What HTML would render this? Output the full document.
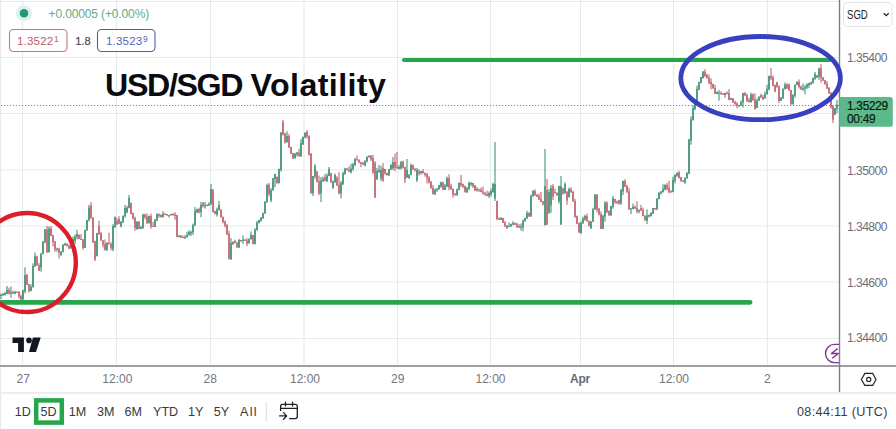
<!DOCTYPE html>
<html><head><meta charset="utf-8">
<style>
html,body{margin:0;padding:0;width:896px;height:429px;overflow:hidden;background:#fff;}
body{position:relative;font-family:"Liberation Sans",sans-serif;}
.t{position:absolute;white-space:nowrap;line-height:1;}
svg{position:absolute;left:0;top:0;}
.px{color:#6e7075;font-size:12.1px;left:847px;letter-spacing:-0.55px;}
.tx{color:#72757c;font-size:12px;top:373px;}
.tb{color:#383a42;font-size:12.6px;top:405.7px;}
</style></head><body>
<svg width="896" height="429" viewBox="0 0 896 429">
  <!-- grid -->
  <g stroke="#e5eaee" stroke-width="1.1" fill="none">
    <path d="M22.5 0V365M116.5 0V365M210.5 0V365M304 0V365M397.5 0V365M490.5 0V365M580.5 0V365M673.5 0V365M767.5 0V365"/>
    <path d="M0 1.5H839M0 57.5H839M0 113.5H839M0 170H839M0 226H839M0 282H839M0 338.5H839"/>
  </g>
  <path d="M0.5 0V429" stroke="#e9e9e9" stroke-width="1.2"/>
  <!-- current price dotted line -->
  <path d="M0 105.5H839" stroke="#7d8a86" stroke-width="1" stroke-dasharray="1.2 1.8" stroke-dashoffset="-1"/>
  
  <!-- candles -->
  <path d="M1.0 293.6V299.1M3.0 293.1V296.0M5.0 291.9V295.5M7.0 286.0V294.0M11.0 286.4V297.7M15.0 290.7V293.4M23.0 289.6V299.5M25.0 267.4V293.4M31.0 284.2V291.2M33.0 263.3V287.0M35.0 252.6V266.8M41.0 253.1V271.7M43.0 241.0V254.1M45.0 229.1V243.4M49.0 226.5V252.2M57.0 247.7V251.7M61.0 251.2V256.1M63.0 244.2V251.7M65.0 242.6V245.4M71.0 242.1V248.2M73.0 236.6V242.8M75.0 234.5V244.3M77.0 229.8V239.4M85.0 229.6V247.7M87.0 219.9V230.4M89.0 204.8V221.3M97.0 232.9V256.2M107.0 242.1V251.1M113.0 224.3V251.2M115.0 216.4V228.1M121.0 221.1V227.2M123.0 215.6V223.2M125.0 205.0V217.5M127.0 205.7V213.2M129.0 195.0V207.7M137.0 221.5V229.5M141.0 225.8V229.2M143.0 213.9V228.8M149.0 215.5V223.0M155.0 219.0V226.9M157.0 213.3V221.2M163.0 211.2V217.0M169.0 214.9V217.6M171.0 213.7V215.1M179.0 235.3V237.3M185.0 235.1V238.7M187.0 231.7V237.2M189.0 230.2V235.2M191.0 230.5V236.2M193.0 223.6V235.0M195.0 207.0V225.6M197.0 208.7V213.4M201.0 201.9V217.1M205.0 201.9V208.7M207.0 204.6V206.1M209.0 202.0V205.9M211.0 184.0V204.2M217.0 207.7V216.6M219.0 200.9V210.5M231.0 238.2V260.0M233.0 241.5V244.8M239.0 238.8V247.9M241.0 239.9V241.7M243.0 235.4V244.0M249.0 238.4V243.3M251.0 231.4V239.1M255.0 228.2V244.1M257.0 221.0V229.9M259.0 219.8V223.4M261.0 217.2V221.5M263.0 212.5V218.7M265.0 201.3V213.5M267.0 183.6V202.6M271.0 188.1V202.3M273.0 177.8V190.5M275.0 173.7V187.3M279.0 168.6V182.9M281.0 131.9V171.6M287.0 131.2V142.2M295.0 152.8V158.2M297.0 152.0V156.6M301.0 138.9V156.8M303.0 136.5V144.9M305.0 132.2V138.3M313.0 176.0V196.1M315.0 164.0V178.8M321.0 177.1V202.0M323.0 176.5V181.7M327.0 173.5V181.7M329.0 167.0V176.1M333.0 180.4V188.4M335.0 173.5V182.4M341.0 181.0V198.5M343.0 171.7V185.3M345.0 167.8V174.1M351.0 163.7V173.2M353.0 162.9V170.8M355.0 157.9V166.3M365.0 160.3V166.5M367.0 156.3V162.5M369.0 155.6V157.2M377.0 167.8V179.8M379.0 164.9V172.4M381.0 166.0V181.0M389.0 168.8V175.8M391.0 164.1V169.5M393.0 157.0V170.0M399.0 164.9V169.5M401.0 161.3V169.4M407.0 159.0V178.0M409.0 174.5V178.4M411.0 163.5V174.7M417.0 168.0V182.0M421.0 171.0V174.7M435.0 188.5V194.9M437.0 187.9V191.8M439.0 184.8V189.9M441.0 181.7V187.8M445.0 183.9V190.0M447.0 176.5V187.2M457.0 188.6V195.5M459.0 182.5V190.4M467.0 186.9V192.9M469.0 181.5V190.3M471.0 181.9V186.2M477.0 187.1V191.5M489.0 191.5V198.1M491.0 188.5V196.7M493.0 182.6V192.7M495.0 142.0V201.0M501.0 217.1V220.0M509.0 222.6V226.7M511.0 223.6V226.5M513.0 221.2V225.3M521.0 223.5V230.5M523.0 219.6V231.4M525.0 217.6V221.1M527.0 210.7V218.7M531.0 194.5V216.4M533.0 190.1V196.6M545.0 149.0V225.0M549.0 189.0V214.0M551.0 185.0V213.0M559.0 185.8V203.5M561.0 176.0V225.0M565.0 182.4V193.2M569.0 187.5V196.8M581.0 221.2V234.0M583.0 216.6V223.6M585.0 214.8V220.8M591.0 221.1V228.7M593.0 207.9V221.5M595.0 194.2V209.4M603.0 214.9V228.6M605.0 201.1V221.6M611.0 205.8V215.7M613.0 195.8V208.7M621.0 189.0V204.8M623.0 180.7V195.0M631.0 208.1V214.1M633.0 203.5V209.4M639.0 209.5V213.4M647.0 209.3V224.0M649.0 214.5V217.6M651.0 212.3V216.6M653.0 208.0V213.8M657.0 198.4V210.0M659.0 191.9V199.2M661.0 191.2V194.6M663.0 184.3V192.6M665.0 184.2V190.4M673.0 176.7V192.3M675.0 174.2V183.4M677.0 172.6V176.9M685.0 177.3V183.1M687.0 172.0V178.4M689.0 138.9V173.8M691.0 116.2V144.8M693.0 105.2V120.4M695.0 103.6V110.3M697.0 85.7V104.8M699.0 81.8V90.2M701.0 77.0V83.0M703.0 71.0V78.0M717.0 91.4V94.2M719.0 89.9V100.7M725.0 92.5V97.7M731.0 97.8V99.9M739.0 104.8V106.5M741.0 100.3V105.6M743.0 92.9V107.6M751.0 92.6V102.4M757.0 98.5V108.0M759.0 95.9V100.7M765.0 91.4V98.9M767.0 84.8V94.3M769.0 75.7V90.4M781.0 97.1V100.5M783.0 88.2V98.8M785.0 82.3V89.1M793.0 94.0V104.4M795.0 84.5V97.6M797.0 81.4V84.9M803.0 83.5V90.1M805.0 85.0V94.4M807.0 83.4V88.9M809.0 82.7V88.1M811.0 81.6V84.5M813.0 77.7V83.0M815.0 72.0V79.9M817.0 75.1V78.1M819.0 67.6V79.8M835.0 107.8V114.7M837.0 100.0V113.0" stroke="#30896a" stroke-width="1" fill="none"/><path d="M9.0 287.7V294.7M13.0 290.7V293.5M17.0 291.4V292.5M19.0 291.1V298.6M21.0 294.5V300.0M27.0 274.0V284.8M29.0 283.9V292.5M37.0 255.7V265.3M39.0 263.1V270.9M47.0 226.0V252.8M51.0 226.0V236.1M53.0 234.8V246.4M55.0 240.9V251.8M59.0 248.3V258.5M67.0 243.2V246.4M69.0 244.6V249.1M79.0 234.2V238.8M81.0 234.1V239.8M83.0 239.0V249.8M91.0 202.1V218.3M93.0 217.1V242.8M95.0 240.8V261.0M99.0 220.5V234.8M101.0 232.0V240.4M103.0 240.2V247.5M105.0 239.5V250.0M109.0 232.7V244.1M111.0 242.1V250.3M117.0 217.8V224.8M119.0 216.2V224.3M131.0 202.7V214.4M133.0 212.7V219.6M135.0 216.6V230.9M139.0 221.2V228.6M145.0 213.7V219.3M147.0 213.4V223.5M151.0 213.5V228.6M153.0 221.8V226.9M159.0 213.6V217.7M161.0 214.3V217.1M165.0 212.8V214.9M167.0 214.0V215.3M173.0 213.1V215.8M175.0 212.1V219.8M177.0 214.7V237.3M181.0 235.1V237.7M183.0 235.6V238.3M199.0 207.6V213.4M203.0 201.9V207.6M213.0 189.3V212.2M215.0 210.8V213.8M221.0 209.3V217.2M223.0 216.4V223.4M225.0 220.5V227.4M227.0 224.3V234.8M229.0 230.9V259.0M235.0 239.7V242.7M237.0 241.7V247.7M245.0 238.9V240.7M247.0 238.2V246.2M253.0 235.0V243.9M269.0 183.0V196.4M277.0 176.6V183.2M283.0 120.0V135.6M285.0 132.9V143.6M289.0 134.0V148.0M291.0 146.7V153.5M293.0 152.9V159.1M299.0 148.7V156.1M307.0 130.0V138.6M309.0 135.2V155.9M311.0 153.1V193.3M317.0 170.9V182.5M319.0 175.6V195.3M325.0 174.0V181.5M331.0 172.9V182.6M337.0 176.2V185.9M339.0 172.1V194.4M347.0 167.9V169.9M349.0 166.4V172.1M357.0 155.4V160.2M359.0 159.5V162.9M361.0 161.9V167.3M363.0 162.0V165.1M371.0 155.4V161.0M373.0 154.9V173.9M375.0 161.0V198.0M383.0 163.0V182.0M385.0 168.8V174.6M387.0 172.7V175.1M395.0 153.5V171.3M397.0 152.0V168.3M403.0 160.5V168.5M405.0 166.7V183.0M413.0 164.7V169.2M415.0 167.9V171.4M419.0 169.3V175.6M423.0 169.1V173.2M425.0 172.5V176.7M427.0 172.9V183.6M429.0 176.1V183.6M431.0 180.9V188.5M433.0 184.9V194.1M443.0 181.7V189.6M449.0 174.3V190.3M451.0 183.7V189.5M453.0 188.2V197.8M455.0 193.2V195.4M461.0 175.0V187.1M463.0 183.7V188.1M465.0 185.5V191.8M473.0 183.0V187.9M475.0 185.0V191.2M479.0 188.9V192.0M481.0 187.5V192.2M483.0 186.7V194.6M485.0 191.9V195.8M487.0 190.5V196.2M497.0 200.8V220.2M499.0 217.7V219.7M503.0 217.8V223.0M505.0 221.0V227.3M507.0 225.1V228.9M515.0 222.7V224.9M517.0 222.5V227.5M519.0 224.0V228.0M529.0 212.0V216.5M535.0 189.3V195.9M537.0 194.4V196.9M539.0 193.5V200.0M541.0 192.0V201.7M543.0 201.0V205.6M547.0 179.0V225.0M553.0 184.0V200.0M555.0 188.5V193.1M557.0 192.5V195.8M563.0 187.7V194.8M567.0 190.9V204.8M571.0 187.3V192.4M573.0 190.9V201.1M575.0 198.8V217.3M577.0 215.5V223.9M579.0 222.5V232.7M587.0 213.5V221.1M589.0 220.5V226.6M597.0 194.3V212.5M599.0 207.8V215.5M601.0 211.4V229.2M607.0 201.3V212.9M609.0 210.4V215.6M615.0 198.8V203.8M617.0 200.6V203.6M619.0 199.8V204.8M625.0 179.0V186.4M627.0 184.8V193.2M629.0 187.8V209.6M635.0 205.6V208.6M637.0 201.3V213.2M641.0 204.8V210.5M643.0 207.6V215.9M645.0 215.5V220.1M655.0 207.8V209.7M667.0 183.0V190.3M669.0 180.7V193.6M671.0 190.2V192.8M679.0 170.8V178.6M681.0 176.8V181.8M683.0 180.3V182.0M705.0 69.2V76.5M707.0 73.8V78.1M709.0 74.5V83.5M711.0 78.3V89.3M713.0 83.7V88.5M715.0 84.8V93.6M721.0 91.4V94.3M723.0 93.3V94.6M727.0 91.3V93.9M729.0 89.1V100.2M733.0 97.9V102.4M735.0 100.6V105.7M737.0 102.0V108.3M745.0 91.9V96.1M747.0 93.6V101.5M749.0 97.8V102.1M753.0 93.5V100.3M755.0 93.4V109.0M761.0 93.6V97.7M763.0 95.0V100.0M771.0 68.0V80.1M773.0 75.3V85.9M775.0 84.6V92.2M777.0 81.9V87.8M779.0 85.3V103.3M787.0 83.3V88.9M789.0 83.6V90.3M791.0 90.0V104.5M799.0 79.4V88.5M801.0 85.6V89.6M821.0 64.0V82.8M823.0 77.2V80.9M825.0 80.1V84.4M827.0 81.0V89.1M829.0 87.0V93.5M831.0 92.1V108.8M833.0 105.4V123.0" stroke="#bd5763" stroke-width="1" fill="none"/><path d="M1.0 294.7V296.1M3.0 294.1V295.3M5.0 292.9V294.7M7.0 290.0V294.1M11.0 292.1V293.6M15.0 291.8V293.9M23.0 290.5V299.6M25.0 275.0V291.4M31.0 286.8V291.1M33.0 265.9V287.6M35.0 256.0V266.5M41.0 253.7V267.6M43.0 241.2V254.3M45.0 229.2V241.8M49.0 228.4V252.6M57.0 248.4V249.6M61.0 251.6V254.6M63.0 244.7V252.2M65.0 243.8V245.6M71.0 242.4V248.5M73.0 239.0V243.0M75.0 236.4V240.9M77.0 234.0V237.0M85.0 230.1V248.0M87.0 220.0V230.7M89.0 207.5V220.6M97.0 233.1V256.2M107.0 243.0V249.8M113.0 226.0V249.6M115.0 217.0V227.1M121.0 221.7V226.6M123.0 215.7V222.3M125.0 208.0V216.3M127.0 207.6V212.6M129.0 198.0V208.2M137.0 221.5V229.6M141.0 227.3V229.0M143.0 214.5V227.9M149.0 216.0V223.4M155.0 219.8V227.0M157.0 214.1V220.4M163.0 214.1V217.6M169.0 214.9V215.7M171.0 213.9V215.6M179.0 235.4V237.0M185.0 237.0V238.6M187.0 235.0V237.6M189.0 232.0V235.6M191.0 231.9V233.5M193.0 224.8V232.6M195.0 211.0V225.4M197.0 209.0V212.2M201.0 205.1V212.2M205.0 205.3V206.6M207.0 204.7V205.9M209.0 204.0V205.6M211.0 189.0V204.7M217.0 209.5V214.6M219.0 205.0V210.1M231.0 243.0V259.3M233.0 241.8V244.3M239.0 240.0V247.5M241.0 240.0V241.2M243.0 239.8V241.0M249.0 239.0V243.6M251.0 235.0V239.6M255.0 229.8V244.2M257.0 222.4V230.4M259.0 220.0V223.0M261.0 217.5V221.1M263.0 213.2V218.6M265.0 201.6V213.8M267.0 185.0V202.2M271.0 190.0V200.6M273.0 178.3V190.6M275.0 174.0V178.9M279.0 169.0V183.4M281.0 132.7V170.1M287.0 136.0V142.6M295.0 154.0V158.6M297.0 152.4V154.6M301.0 143.1V156.6M303.0 137.0V144.6M305.0 133.0V137.6M313.0 176.0V193.6M315.0 166.0V176.6M321.0 180.5V193.6M323.0 178.9V181.6M327.0 175.5V181.6M329.0 169.0V176.1M333.0 181.8V188.6M335.0 175.0V182.4M341.0 183.0V193.6M343.0 173.0V184.0M345.0 168.5V174.6M351.0 168.5V172.6M353.0 164.3V169.1M355.0 159.2V164.9M365.0 160.7V165.6M367.0 156.8V161.3M369.0 155.6V157.4M377.0 171.1V179.6M379.0 170.0V172.6M381.0 170.0V178.6M389.0 169.0V175.6M391.0 165.0V169.7M393.0 162.0V168.6M399.0 167.0V168.7M401.0 161.7V168.4M407.0 170.0V177.6M409.0 174.6V178.6M411.0 164.9V175.2M417.0 170.0V180.6M421.0 171.1V173.0M435.0 189.7V194.6M437.0 188.4V190.3M439.0 185.2V189.0M441.0 182.2V186.6M445.0 185.7V190.0M447.0 178.2V186.6M457.0 189.2V195.4M459.0 182.8V189.8M467.0 188.0V192.4M469.0 183.0V188.6M471.0 183.0V184.6M477.0 189.0V190.6M489.0 193.0V196.0M491.0 191.0V194.3M493.0 184.0V192.2M495.0 184.0V198.6M501.0 217.9V220.1M509.0 226.0V227.3M511.0 223.9V226.8M513.0 223.0V224.6M521.0 226.5V227.7M523.0 220.7V227.6M525.0 218.0V221.6M527.0 213.0V218.6M531.0 196.0V216.7M533.0 191.0V196.6M545.0 186.0V225.6M549.0 192.0V212.6M551.0 188.0V205.6M559.0 186.0V201.6M561.0 186.0V224.6M565.0 184.0V193.6M569.0 189.0V197.4M581.0 222.8V232.7M583.0 218.4V223.6M585.0 216.0V219.6M591.0 221.4V228.6M593.0 209.2V222.0M595.0 194.5V209.8M603.0 215.7V229.1M605.0 202.8V216.6M611.0 206.0V215.6M613.0 198.0V206.9M621.0 190.0V203.6M623.0 181.0V191.6M631.0 208.3V209.6M633.0 206.8V208.9M639.0 209.7V211.6M647.0 215.4V220.7M649.0 215.0V216.6M651.0 213.0V215.9M653.0 208.0V214.1M657.0 198.6V209.6M659.0 193.0V199.2M661.0 191.3V193.6M663.0 188.8V191.9M665.0 184.9V189.6M673.0 180.0V191.8M675.0 175.0V180.7M677.0 172.6V175.7M685.0 178.0V183.6M687.0 173.0V178.6M689.0 139.6V174.0M691.0 119.6V140.6M693.0 108.0V120.2M695.0 104.0V108.9M697.0 89.0V105.2M699.0 82.0V89.7M701.0 77.0V83.2M703.0 71.6V78.5M717.0 92.0V93.9M719.0 92.8V93.8M725.0 93.0V95.0M731.0 98.2V100.0M739.0 105.2V106.6M741.0 101.9V105.8M743.0 93.0V102.5M751.0 94.6V102.6M757.0 100.4V107.9M759.0 96.9V101.0M765.0 94.0V97.9M767.0 89.0V94.6M769.0 76.0V89.6M781.0 97.4V101.0M783.0 89.0V98.6M785.0 84.5V89.6M793.0 95.0V104.6M795.0 84.7V95.8M797.0 81.8V85.3M803.0 88.4V90.6M805.0 87.0V89.0M807.0 84.3V87.6M809.0 83.1V85.6M811.0 82.3V84.6M813.0 77.8V83.6M815.0 74.0V78.6M817.0 75.5V77.6M819.0 68.5V76.6M835.0 108.1V115.0M837.0 104.4V108.7" stroke="#30896a" stroke-width="1.3" fill="none"/><path d="M9.0 290.0V293.6M13.0 292.1V293.9M17.0 291.8V293.1M19.0 291.9V296.6M21.0 295.9V299.6M27.0 275.0V285.0M29.0 284.0V291.1M37.0 256.4V265.8M39.0 265.2V271.1M47.0 229.2V252.6M51.0 228.4V235.9M53.0 235.3V242.0M55.0 241.4V249.4M59.0 248.4V252.7M67.0 243.8V246.1M69.0 245.5V248.5M79.0 235.0V239.3M81.0 238.7V240.0M83.0 239.4V248.0M91.0 205.6V218.6M93.0 217.6V242.6M95.0 241.0V259.6M99.0 226.0V233.9M101.0 233.3V240.8M103.0 240.2V244.7M105.0 244.1V250.6M109.0 243.0V244.6M111.0 244.0V247.7M117.0 220.7V224.6M119.0 219.0V223.7M131.0 202.8V213.7M133.0 213.1V218.6M135.0 218.0V227.9M139.0 221.5V229.0M145.0 214.5V217.6M147.0 216.4V223.4M151.0 216.0V226.6M153.0 226.0V227.0M159.0 214.1V215.7M161.0 215.1V217.6M165.0 214.0V215.0M167.0 214.0V215.7M173.0 213.9V215.0M175.0 214.4V215.9M177.0 215.0V237.0M181.0 235.4V237.8M183.0 237.2V237.9M199.0 209.0V212.2M203.0 203.0V206.1M213.0 189.6V212.2M215.0 211.0V214.2M221.0 209.4V217.5M223.0 216.9V222.2M225.0 221.6V225.4M227.0 224.8V234.7M229.0 234.1V259.3M235.0 241.0V243.3M237.0 242.7V247.5M245.0 239.8V241.1M247.0 240.5V243.6M253.0 235.0V244.2M269.0 185.0V194.3M277.0 176.8V183.4M283.0 122.0V134.6M285.0 133.3V142.6M289.0 136.0V147.6M291.0 147.0V154.0M293.0 153.0V158.6M299.0 152.4V156.6M307.0 132.0V136.6M309.0 136.0V154.6M311.0 153.4V193.6M317.0 171.6V181.9M319.0 181.3V193.6M325.0 177.0V180.4M331.0 172.9V182.5M337.0 177.4V185.4M339.0 184.8V193.6M347.0 168.5V170.3M349.0 169.7V171.6M357.0 159.2V160.6M359.0 159.8V162.5M361.0 161.9V163.8M363.0 163.0V164.4M371.0 155.6V159.6M373.0 158.1V172.6M375.0 163.0V197.6M383.0 168.0V180.6M385.0 168.9V173.8M387.0 173.0V175.6M395.0 162.0V167.7M397.0 167.0V168.7M403.0 161.7V167.7M405.0 167.0V179.6M413.0 164.9V169.7M415.0 169.0V170.6M419.0 171.2V173.6M423.0 171.1V173.5M425.0 172.9V174.9M427.0 174.3V177.8M429.0 177.2V182.3M431.0 181.7V188.4M433.0 187.8V194.6M443.0 182.2V190.0M449.0 178.2V187.4M451.0 186.0V189.6M453.0 188.9V194.6M455.0 193.6V195.4M461.0 182.8V185.2M463.0 184.0V186.7M465.0 186.0V192.4M473.0 183.1V186.6M475.0 185.2V190.4M479.0 189.3V190.6M481.0 189.5V192.1M483.0 191.5V193.6M485.0 193.0V194.6M487.0 194.0V196.0M497.0 201.0V218.9M499.0 218.3V220.1M503.0 217.9V223.0M505.0 222.4V225.8M507.0 225.2V228.6M515.0 223.0V225.0M517.0 224.4V227.6M519.0 226.3V227.7M529.0 213.0V216.7M535.0 191.0V195.2M537.0 194.6V196.9M539.0 196.3V199.6M541.0 199.0V201.9M543.0 201.3V204.2M547.0 190.0V224.6M553.0 186.0V196.6M555.0 192.0V193.6M557.0 192.8V195.3M563.0 188.6V193.6M567.0 191.7V200.6M571.0 189.0V192.6M573.0 191.8V201.7M575.0 201.0V217.6M577.0 216.0V223.8M579.0 223.0V232.7M587.0 216.0V221.6M589.0 220.7V225.6M597.0 194.5V209.6M599.0 208.8V214.6M601.0 213.9V229.1M607.0 202.8V212.2M609.0 211.0V215.6M615.0 199.0V202.3M617.0 201.7V203.6M619.0 200.0V203.6M625.0 181.0V186.9M627.0 186.0V192.1M629.0 191.5V209.6M635.0 206.8V208.7M637.0 208.1V211.4M641.0 208.0V210.7M643.0 210.1V216.2M645.0 215.6V220.7M655.0 208.0V209.6M667.0 184.9V189.0M669.0 188.0V191.6M671.0 191.0V192.6M679.0 172.6V177.9M681.0 177.3V181.1M683.0 180.5V181.7M705.0 71.6V76.4M707.0 75.0V78.6M709.0 77.7V83.6M711.0 82.1V84.6M713.0 84.0V88.6M715.0 87.9V93.9M721.0 92.8V94.6M723.0 93.4V95.0M727.0 93.0V94.3M729.0 93.0V100.0M733.0 98.2V102.7M735.0 102.1V104.1M737.0 103.5V105.8M745.0 93.0V95.6M747.0 94.9V101.6M749.0 100.1V102.6M753.0 94.6V100.6M755.0 99.6V109.6M761.0 95.0V97.7M763.0 97.1V99.6M771.0 76.0V78.6M773.0 77.5V86.2M775.0 85.0V91.6M777.0 82.0V87.1M779.0 86.5V101.0M787.0 84.5V88.4M789.0 84.0V90.7M791.0 90.1V104.6M799.0 81.8V87.0M801.0 86.4V89.6M821.0 68.5V77.8M823.0 77.2V80.8M825.0 80.2V84.4M827.0 83.8V88.5M829.0 87.9V93.4M831.0 92.8V107.3M833.0 106.0V119.6" stroke="#bd5763" stroke-width="1.3" fill="none"/>
  <!-- green lines -->
  <path d="M404 60H830" stroke="#26a64b" stroke-width="4.2" stroke-linecap="round"/>
  <path d="M0 302.3H750" stroke="#27a64c" stroke-width="4.8" stroke-linecap="round"/>
  <!-- red ellipse -->
  <ellipse cx="27" cy="262.5" rx="48.8" ry="49.5" stroke="#dc1e2a" stroke-width="4.4" fill="none"/>
  <!-- axes -->
  <path d="M0 366H896" stroke="#9c9ea4" stroke-width="2"/>
  <path d="M0 392.8H896" stroke="#ebebeb" stroke-width="1.8"/>
  <path d="M839.5 0V392" stroke="#7c7f86" stroke-width="1.4"/>
  <!-- blue ellipse -->
  <ellipse cx="760.6" cy="78.1" rx="79.8" ry="41.6" stroke="#3940c0" stroke-width="4.8" fill="none"/>
  <!-- lightning -->
  <path d="M839 344.4H834.6A9.1 9.1 0 0 0 834.6 362.6H839" stroke="#7f3398" stroke-width="1.4" fill="none"/>
  <path d="M837.6 348.6L831.4 353.5H838.2L832.3 358.3" stroke="#7f3398" stroke-width="1.4" fill="none" stroke-linejoin="round"/>
  <!-- hexagon -->
  <path d="M861.4 379.5L864.8 373.4H872.7L876 379.5L872.7 385.3H864.8Z" stroke="#1f2128" stroke-width="1.15" fill="none"/>
  <circle cx="868.7" cy="379.4" r="2.1" stroke="#1f2128" stroke-width="1.15" fill="none"/>
  <!-- TV logo -->
  <path d="M12.5 337.6H23.9V351.9H18.1V342.9H12.5Z" fill="#131722"/>
  <circle cx="29" cy="340.4" r="2.8" fill="#131722"/>
  <path d="M32.9 337.6H40.7L36 351.9H29Z" fill="#131722"/>
  <!-- green dot -->
  <circle cx="24" cy="13.2" r="8.2" fill="#e1f1eb"/>
  <circle cx="24" cy="13.2" r="4.3" fill="#1f9a7a"/>
  <!-- legend boxes -->
  <rect x="9.5" y="29.5" width="57.5" height="22" rx="4" fill="#fff" stroke="#d0727a" stroke-width="1.1"/>
  <rect x="97.5" y="29.5" width="57.5" height="22" rx="4" fill="#fff" stroke="#4a63ad" stroke-width="1.1"/>
  <!-- SGD box -->
  <rect x="843.5" y="2.5" width="48.5" height="24" rx="4" fill="none" stroke="#e3e5ea" stroke-width="1"/>
  <path d="M883.7 13.2L886.2 15.7L888.7 13.2" stroke="#1f2128" stroke-width="1.25" fill="none"/>
  <!-- current price label -->
  <path d="M839.5 97H890.5Q892.8 97 892.8 99.5V124.2Q892.8 126.7 890.5 126.7H839.5Z" fill="#5bb98a"/>
  <!-- 5D green box -->
  <rect x="36.2" y="400.4" width="25.6" height="22.2" fill="none" stroke="#26a64b" stroke-width="4.5"/>
  <!-- separator -->
  <path d="M266.3 401.7V421.8" stroke="#dcdde2" stroke-width="1"/>
  <!-- calendar icon -->
  <g stroke="#1f2128" stroke-width="1.3" fill="none" stroke-linecap="round">
    <path d="M280.6 410.4V406.4Q280.6 404.4 282.6 404.4H295.3Q297.3 404.4 297.3 406.4V416.6Q297.3 418.6 295.3 418.6H289.6"/>
    <path d="M280.6 408.3H297.3"/>
    <path d="M285.5 402.2V405.9M292.6 402.2V405.9"/>
    <path d="M279.6 415.9H286.3M283.5 412.6L286.6 415.9L283.5 419.2"/>
  </g>
</svg>

<div class="t" id="chg" style="left:48.5px;top:8px;font-size:12px;color:#62ad88;letter-spacing:-0.13px;">+0.00005 (+0.00%)</div>
<div class="t" id="bid" style="left:17px;top:34.8px;letter-spacing:0.15px;font-size:11.6px;color:#c05a6b;">1.3522<span style="font-size:8.4px;vertical-align:3px;margin-left:0.6px;">1</span></div>
<div class="t" id="spr" style="left:75.3px;top:36.1px;font-size:11px;color:#46484e;-webkit-text-stroke:0.2px #46484e;">1.8</div>
<div class="t" id="ask" style="left:106px;top:34.8px;letter-spacing:0.15px;font-size:11.6px;color:#5468bd;">1.3523<span style="font-size:8.4px;vertical-align:3px;margin-left:0.6px;">9</span></div>

<div class="t" id="title1" style="left:105px;top:69px;font-size:32.2px;font-weight:bold;color:#0b0b12;letter-spacing:-1.35px;">USD/SGD</div>
<div class="t" id="title2" style="left:250.5px;top:69px;font-size:32.2px;font-weight:bold;color:#0b0b12;letter-spacing:0.4px;">Volatility</div>

<div class="t" id="sgd" style="left:847px;top:8.6px;font-size:12px;color:#1f2128;transform:scaleX(0.8);transform-origin:0 0;">SGD</div>
<div class="t px" style="top:52px;">1.35400</div>
<div class="t px" style="top:165px;">1.35000</div>
<div class="t px" style="top:220.5px;">1.34800</div>
<div class="t px" style="top:276.5px;">1.34600</div>
<div class="t px" style="top:332.4px;">1.34400</div>
<div class="t" id="cp1" style="left:847px;top:101.2px;font-size:11.9px;color:#07190d;letter-spacing:-0.3px;-webkit-text-stroke:0.2px #07190d;">1.35229</div>
<div class="t" id="cp2" style="left:847px;top:114.2px;font-size:11.9px;color:#07190d;letter-spacing:-0.3px;-webkit-text-stroke:0.2px #07190d;">00:49</div>

<div class="t tx" style="left:16.5px;">27</div>
<div class="t tx" style="left:102.3px;">12:00</div>
<div class="t tx" style="left:203.5px;">28</div>
<div class="t tx" style="left:290px;">12:00</div>
<div class="t tx" style="left:391px;">29</div>
<div class="t tx" style="left:475.5px;">12:00</div>
<div class="t tx" style="left:570px;font-weight:bold;color:#676a71;letter-spacing:-0.2px;">Apr</div>
<div class="t tx" style="left:659px;">12:00</div>
<div class="t tx" style="left:764px;">2</div>

<div class="t tb" style="left:14.8px;">1D</div>
<div class="t tb" style="left:40.4px;">5D</div>
<div class="t tb" style="left:68.7px;">1M</div>
<div class="t tb" style="left:96.9px;">3M</div>
<div class="t tb" style="left:124.5px;">6M</div>
<div class="t tb" style="left:153px;">YTD</div>
<div class="t tb" style="left:188px;">1Y</div>
<div class="t tb" style="left:213.7px;">5Y</div>
<div class="t tb" style="left:240px;letter-spacing:1.3px;">All</div>
<div class="t tb" id="utc" style="left:797px;letter-spacing:0.35px;">08:44:11 (UTC)</div>
</body></html>
